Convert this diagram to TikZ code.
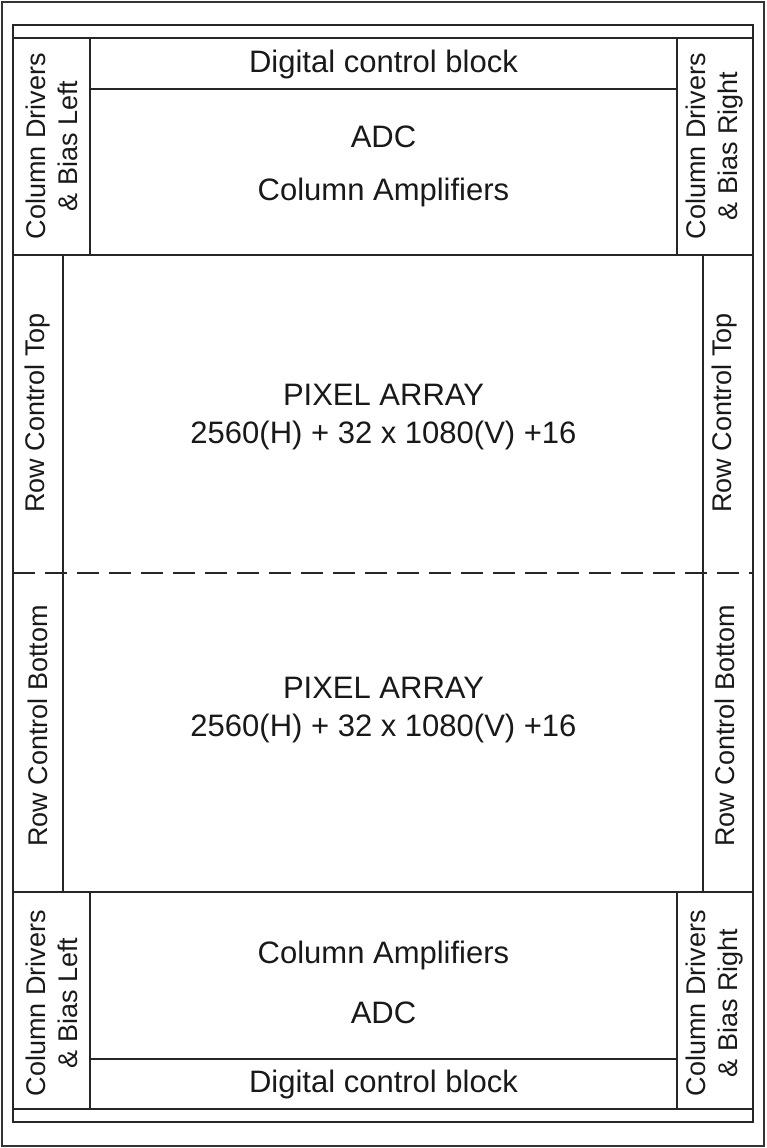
\documentclass[tikz,border=0pt]{standalone}
\usepackage{fontspec}
\setmainfont{Liberation Sans}
\usepackage{tikz}
\usetikzlibrary{positioning}

\begin{document}
\begin{tikzpicture}[
    x=1pt, y=-1pt,
    frame/.style={draw=black!85, line width=1.7pt},
    outer/.style={draw=black!80, line width=1.3pt},
    split/.style={draw=black!85, line width=1.7pt, dash pattern=on 22pt off 10pt},
    lbl/.style={font=\fontsize{31}{38}\selectfont, align=center, inner sep=0pt, text=black!90},
    vlbl/.style={font=\fontsize{27}{32}\selectfont, align=center, inner sep=0pt, rotate=90, text=black!90},
]
\useasboundingbox (0,0) rectangle (767,1148);

% frames
\draw[outer] (2,2) rectangle (764,1146);
\draw[frame] (13,25) rectangle (753,1122);
\draw[frame] (13,38) -- (753,38);
\draw[frame] (13,1109) -- (753,1109);
\draw[frame] (13,255) -- (753,255);
\draw[frame] (13,892) -- (753,892);

% top readout
\draw[frame] (90,38) -- (90,255);
\draw[frame] (677,38) -- (677,255);
\draw[frame] (90,89) -- (677,89);

% row control strips
\draw[frame] (63,255) -- (63,892);
\draw[frame] (703,255) -- (703,892);
\draw[split] (13,573) -- (753,573);

% bottom readout
\draw[frame] (90,892) -- (90,1109);
\draw[frame] (677,892) -- (677,1109);
\draw[frame] (90,1059) -- (677,1059);

\node[lbl] (dcbtop) at (383.5,64) {Digital control block};
\node[lbl] (adctop) at (383.5,137) {ADC};
\node[lbl] (amptop) at (383.5,192) {Column Amplifiers};

\node[lbl] (pixtop) at (383.5,417) {PIXEL ARRAY\\2560(H) + 32 x 1080(V) +16};
\node[lbl] (pixbot) at (383.5,710) {PIXEL ARRAY\\2560(H) + 32 x 1080(V) +16};

\node[lbl] (ampbot) at (383.5,955) {Column Amplifiers};
\node[lbl] (adcbot) at (383.5,1013) {ADC};
\node[lbl] (dcbbot) at (383.5,1084) {Digital control block};

\node[vlbl] (cdtl) at (51.5,146) {Column Drivers\\\& Bias Left};
\node[vlbl] (cdtr) at (715,146) {Column Drivers\\\& Bias Right};
\node[vlbl] (cdbl) at (51.5,1003) {Column Drivers\\\& Bias Left};
\node[vlbl] (cdbr) at (715,1003) {Column Drivers\\\& Bias Right};

\node[vlbl] (rctl) at (38,413) {Row Control Top};
\node[vlbl] (rcbl) at (38,726) {Row Control Bottom};
\node[vlbl] (rctr) at (725,413) {Row Control Top};
\node[vlbl] (rcbr) at (725,726) {Row Control Bottom};

\end{tikzpicture}
\end{document}
